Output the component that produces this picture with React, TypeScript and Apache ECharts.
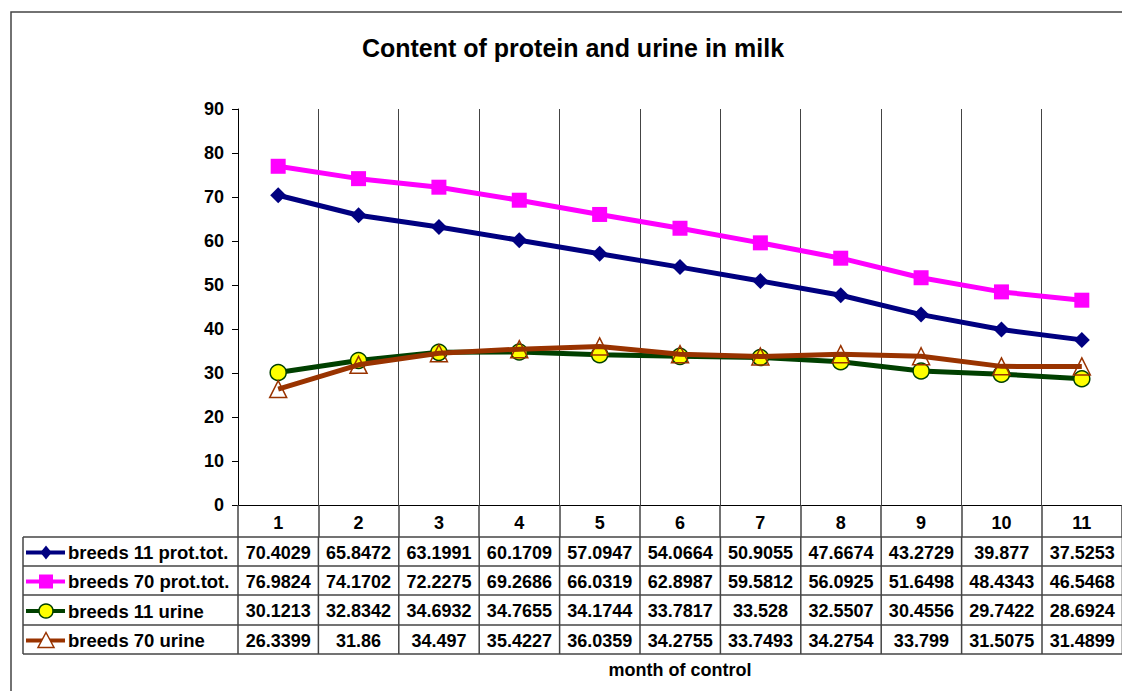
import React, { useEffect, useRef } from "react";
import * as echarts from "echarts";

const months = ["1", "2", "3", "4", "5", "6", "7", "8", "9", "10", "11"];
const seriesNames = ["breeds 11 prot.tot.", "breeds 70 prot.tot.", "breeds 11 urine", "breeds 70 urine"];
const b11Prot = [70.4029, 65.8472, 63.1991, 60.1709, 57.0947, 54.0664, 50.9055, 47.6674, 43.2729, 39.877, 37.5253];
const b70Prot = [76.9824, 74.1702, 72.2275, 69.2686, 66.0319, 62.8987, 59.5812, 56.0925, 51.6498, 48.4343, 46.5468];
const b11Urine = [30.1213, 32.8342, 34.6932, 34.7655, 34.1744, 33.7817, 33.528, 32.5507, 30.4556, 29.7422, 28.6924];
const b70Urine = [26.3399, 31.86, 34.497, 35.4227, 36.0359, 34.2755, 33.7493, 34.2754, 33.799, 31.5075, 31.4899];
const yTicks = { min: 0, max: 90, interval: 10 };
const titleText = "Content of protein and urine in milk";
const xAxisTitle = "month of control";

const FONT = "'Liberation Sans', Arial, sans-serif";

export default function App() {
  const ref = useRef<HTMLDivElement>(null);
  useEffect(() => {
    if (!ref.current) return;
    const chart = echarts.init(ref.current, null, { renderer: "svg" });

    const gridLeft = 238;
    const gridTop = 109;
    const colW = 80.4;
    const gridW = colW * months.length;
    const gridH = 396;
    const tableLeft = 23;
    const rowTops = [537, 566, 595, 625, 654];
    const lineCol = "#444";

    const styles = [
      { color: "#000080", symbol: "diamond", size: 16, fill: "#000080", border: "#000080" },
      { color: "#FF00FF", symbol: "rect", size: 15, fill: "#FF00FF", border: "#FF00FF" },
      { color: "#004000", symbol: "circle", size: 16, fill: "#FFFF00", border: "#004000" },
      { color: "#993300", symbol: "triangle", size: 17, fill: "rgba(255,255,255,0)", border: "#993300" },
    ];
    const dataRows = [b11Prot, b70Prot, b11Urine, b70Urine];

    const graphics: any[] = [];
    graphics.push({
      type: "rect",
      shape: { x: 11, y: 12, width: 1300, height: 900 },
      style: { fill: "none", stroke: "#444", lineWidth: 1.5 },
      silent: true,
    });
    graphics.push({
      type: "text",
      x: 573,
      y: 48,
      style: {
        text: titleText,
        font: `bold 25px ${FONT}`,
        fill: "#000",
        align: "center",
        verticalAlign: "middle",
      },
    });
    graphics.push({
      type: "text",
      x: 680,
      y: 670,
      style: {
        text: xAxisTitle,
        font: `bold 18px ${FONT}`,
        fill: "#000",
        align: "center",
        verticalAlign: "middle",
      },
    });
    rowTops.forEach((y) => {
      graphics.push({
        type: "line",
        shape: { x1: tableLeft, y1: y, x2: gridLeft + gridW, y2: y },
        style: { stroke: lineCol, lineWidth: 1.5 },
      });
    });
    const vx = [tableLeft, gridLeft];
    for (let i = 1; i <= months.length; i++) vx.push(gridLeft + colW * i);
    vx.forEach((x) => {
      graphics.push({
        type: "line",
        shape: { x1: x, y1: rowTops[0], x2: x, y2: rowTops[rowTops.length - 1] },
        style: { stroke: lineCol, lineWidth: 1.5 },
      });
    });
    dataRows.forEach((row, r) => {
      const cy = (rowTops[r] + rowTops[r + 1]) / 2 + 1;
      const st = styles[r];
      graphics.push({
        type: "line",
        shape: { x1: 26, y1: cy, x2: 65, y2: cy },
        style: { stroke: st.color, lineWidth: 4 },
      });
      const mx = 46;
      const s = 7;
      if (st.symbol === "diamond") {
        graphics.push({ type: "polygon", shape: { points: [[mx, cy - s], [mx + s * 0.8, cy], [mx, cy + s], [mx - s * 0.8, cy]] }, style: { fill: st.fill } });
      } else if (st.symbol === "rect") {
        graphics.push({ type: "rect", shape: { x: mx - 7, y: cy - 7, width: 14, height: 14 }, style: { fill: st.fill } });
      } else if (st.symbol === "circle") {
        graphics.push({ type: "circle", shape: { cx: mx, cy, r: 7 }, style: { fill: st.fill, stroke: st.border, lineWidth: 1.5 } });
      } else {
        graphics.push({ type: "polygon", shape: { points: [[mx, cy - 8], [mx + 8, cy + 7], [mx - 8, cy + 7]] }, style: { fill: "#fff", stroke: st.border, lineWidth: 1.5 } });
      }
      graphics.push({
        type: "text",
        x: 68,
        y: cy,
        style: { text: seriesNames[r], font: `bold 18.5px ${FONT}`, fill: "#000", align: "left", verticalAlign: "middle" },
      });
      row.forEach((v, i) => {
        graphics.push({
          type: "text",
          x: gridLeft + colW * (i + 0.5),
          y: cy,
          style: { text: String(v), font: `bold 18px ${FONT}`, fill: "#000", align: "center", verticalAlign: "middle" },
        });
      });
    });

    chart.setOption({
      animation: false,
      backgroundColor: "#fff",
      grid: { left: gridLeft, top: gridTop, width: gridW, height: gridH, containLabel: false },
      xAxis: {
        type: "category",
        data: months,
        boundaryGap: true,
        axisLine: { show: true, lineStyle: { color: "#000", width: 1 } },
        axisTick: { show: true, length: 32, alignWithLabel: false, lineStyle: { color: lineCol, width: 1.5 } },
        axisLabel: { margin: 9, color: "#000", fontWeight: "bold", fontSize: 18, fontFamily: FONT },
        splitLine: { show: true, lineStyle: { color: lineCol, width: 1 } },
      },
      yAxis: {
        type: "value",
        min: yTicks.min,
        max: yTicks.max,
        interval: yTicks.interval,
        axisLine: { show: true, lineStyle: { color: "#000", width: 1 } },
        axisTick: { show: true, inside: false, length: 6, lineStyle: { color: "#000" } },
        axisLabel: { margin: 14, color: "#000", fontWeight: "bold", fontSize: 18, fontFamily: FONT },
        splitLine: { show: false },
      },
      series: dataRows.map((row, r) => ({
        name: seriesNames[r],
        type: "line",
        data: row,
        symbol: styles[r].symbol,
        symbolSize: styles[r].size,
        showSymbol: true,
        lineStyle: { color: styles[r].color, width: 5 },
        itemStyle: {
          color: styles[r].fill,
          borderColor: styles[r].border,
          borderWidth: r >= 2 ? 1.5 : 0,
        },
        z: 2 + r,
      })),
      graphic: graphics,
    });
    return () => chart.dispose();
  }, []);
  return <div ref={ref} style={{ position: "absolute", left: 0, top: 0, width: 1122, height: 691 }} />;
}
